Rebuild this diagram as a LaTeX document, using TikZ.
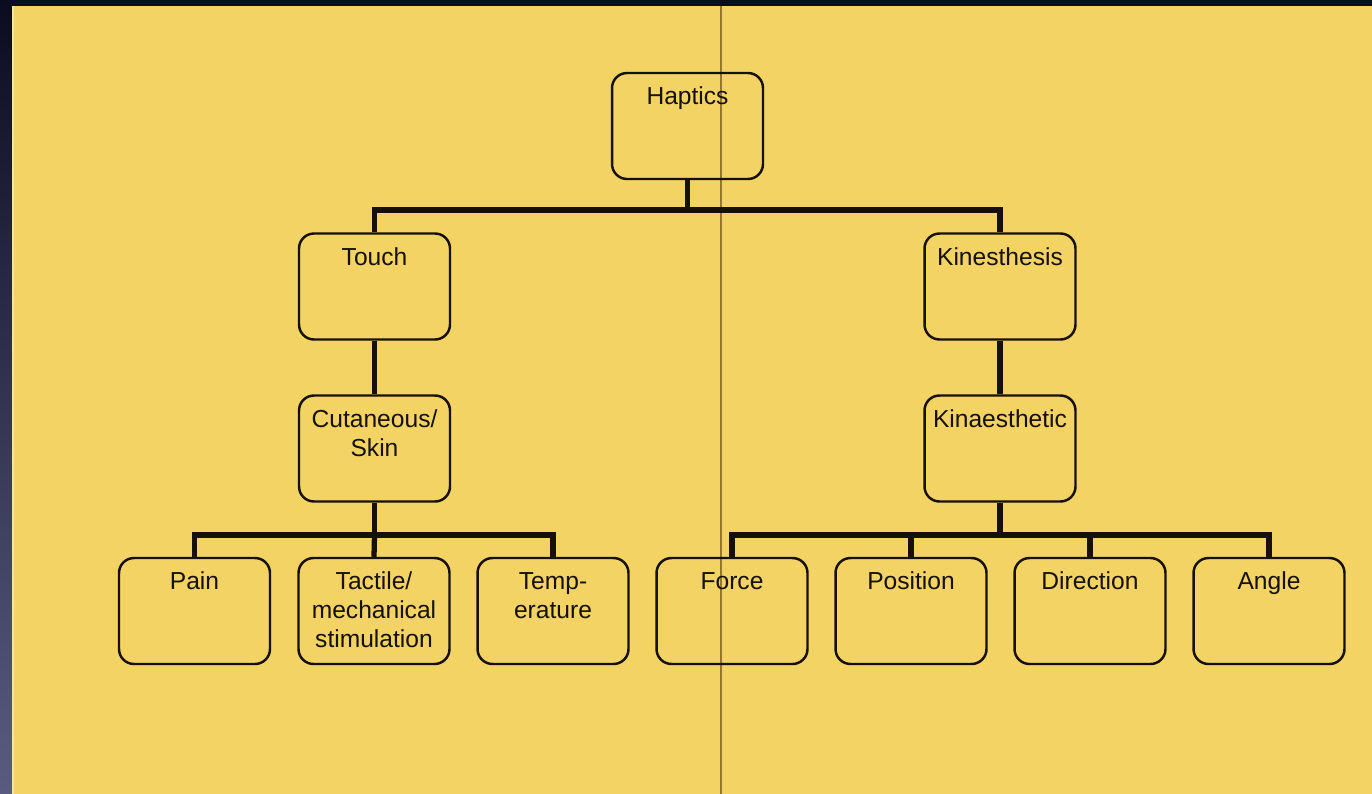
\documentclass[tikz,border=0pt]{standalone}
\usepackage{fontspec}
\setmainfont{Liberation Sans}
\usepackage{tikz}
\usetikzlibrary{positioning}

\definecolor{paper}{RGB}{242,211,100}
\definecolor{frametop}{RGB}{12,12,32}
\definecolor{framebot}{RGB}{88,92,128}
\definecolor{ink}{RGB}{22,16,6}
\definecolor{foldline}{RGB}{150,118,45}
\newcommand{\boxfont}{\fontsize{14}{16.5}\selectfont}

\tikzset{
  box/.style={draw=ink, line width=1.4pt, rounded corners=0.3cm,
    minimum width=3.02cm, minimum height=2.12cm, inner sep=0pt},
  boxtext/.style={anchor=north, yshift=-0.3cm, inner sep=0pt,
    align=center, font=\boxfont, text=ink},
  link/.style={draw=ink, line width=3pt}
}

\begin{document}
\begin{tikzpicture}[x=0.02cm, y=-0.02cm]
    \useasboundingbox (0,0) rectangle (1372,794);
    % slide background
    \fill[frametop] (0,0) rectangle (1372,794);
    \shade[top color=frametop, bottom color=framebot] (0,0) rectangle (12,794);
    \fill[paper] (12,6) rectangle (1372,794);
    \draw[paper!60!white, line width=1pt] (13,6) -- (13,794);
    \draw[foldline, line width=1.1pt] (721,6) -- (721,794);

    \node[box, label={[boxtext]north:Haptics}] (haptics) at (687.5,126) {};

    \node[box, label={[boxtext]north:Touch}] (touch) at (374.5,286.5) {};
    \node[box, label={[boxtext]north:Kinesthesis}] (kinesthesis) at (1000,286.5) {};

    \node[box, label={[boxtext]north:Cutaneous/\\Skin}] (cutaneous) at (374.5,448.5) {};
    \node[box, label={[boxtext]north:Kinaesthetic}] (kinaesthetic) at (1000,448.5) {};

    \node[box, label={[boxtext]north:Pain}] (pain) at (194.5,611) {};
    \node[box, label={[boxtext]north:Tactile/\\mechanical\\stimulation}] (tactile) at (374,611) {};
    \node[box, label={[boxtext]north:Temp-\\erature}] (temperature) at (553,611) {};
    \node[box, label={[boxtext]north:Force}] (force) at (732,611) {};
    \node[box, label={[boxtext]north:Position}] (position) at (911,611) {};
    \node[box, label={[boxtext]north:Direction}] (direction) at (1090,611) {};
    \node[box, label={[boxtext]north:Angle}] (angle) at (1269,611) {};

    % buses
    \coordinate (topbus) at (687.5,210);
    \coordinate (skinbus) at (374.5,535);
    \coordinate (kinbus) at (1000,535);

    \draw[link] (haptics.south) -- (topbus);
    \draw[link] (topbus) -| (touch.north);
    \draw[link] (topbus) -| (kinesthesis.north);
    \draw[link] (touch) -- (cutaneous);
    \draw[link] (kinesthesis) -- (kinaesthetic);

    \draw[link] (cutaneous.south) -- (skinbus);
    \draw[link] (skinbus) -| (pain.north);
    \draw[link] (skinbus) -- (tactile.north);
    \draw[link] (skinbus) -| (temperature.north);

    \draw[link] (kinaesthetic.south) -- (kinbus);
    \draw[link] (kinbus) -| (force.north);
    \draw[link] (kinbus) -| (position.north);
    \draw[link] (kinbus) -| (direction.north);
    \draw[link] (kinbus) -| (angle.north);
\end{tikzpicture}
\end{document}
